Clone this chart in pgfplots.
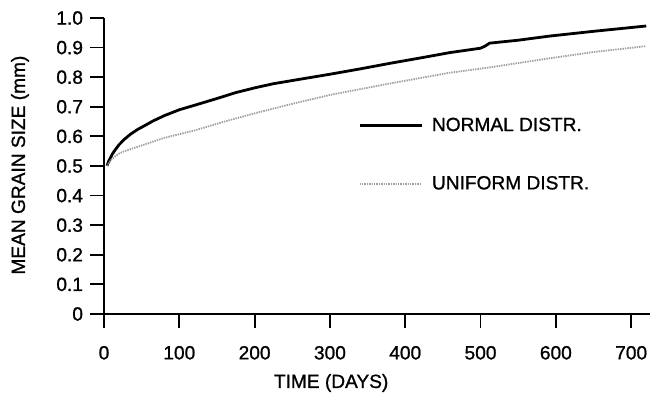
\documentclass[border=0pt]{standalone}
\usepackage{fontspec}
\setmainfont{Liberation Sans}
\newfontfamily\chf{Liberation Sans}[FakeBold=1.0]
\usepackage{pgfplots}
\pgfplotsset{compat=1.18}
\newcommand{\chfont}{\chf\fontsize{9.6}{11}\selectfont}
\begin{document}
\begin{tikzpicture}
\begin{axis}[
  at={(0,0)}, anchor=origin,
  scale only axis,
  width=273bp, height=148bp,
  xmin=0, xmax=725, ymin=0, ymax=1.0,
  axis lines=left,
  axis line style={-, line width=0.9bp},
  tick style={line width=0.9bp, black},
  tick align=outside,
  major tick length=7bp,
  xtick={0,100,200,300,400,500,600,700},
  xticklabels={0,100,200,300,400,500,600,700},
  ytick={0,0.1,0.2,0.3,0.4,0.5,0.6,0.7,0.8,0.9,1.0},
  yticklabels={0,0.1,0.2,0.3,0.4,0.5,0.6,0.7,0.8,0.9,1.0},
  ticklabel style={font=\chfont},
  xticklabel style={yshift=-5.5bp},
  xlabel={TIME (DAYS)},
  ylabel={MEAN GRAIN SIZE (mm)},
  label style={font=\chfont},
  xlabel style={at={(axis description cs:0.416,0)}, anchor=center, yshift=-34.5bp},
  ylabel style={at={(axis description cs:0,0.503)}, anchor=center, yshift=42bp},
  legend style={at={(axis cs:337,0.537)}, anchor=west, draw=none, fill=none,
    font=\chfont, row sep=17bp, inner sep=0pt},
  legend cell align=left,
  legend image code/.code={\draw[#1] (0bp,0bp) -- (31bp,0bp); \path (33.5bp,0bp);},
]
\addplot[black, line width=1.4bp] coordinates {
(4,0.50) (6,0.515) (8,0.525) (11,0.54) (15,0.555) (20,0.572) (27,0.59)
(35,0.607) (45,0.624) (53,0.635) (65,0.652) (80,0.67)
(100,0.69) (120,0.705) (150,0.728) (175,0.748) (200,0.764) (225,0.778) (253,0.79) (300,0.81)
(340,0.828) (380,0.847) (420,0.865) (459,0.883) (500,0.898) (506,0.905) (512,0.915) (550,0.925)
(592,0.939) (650,0.955) (720,0.973)};
\addlegendentry{NORMAL DISTR.}
\addplot[gray!75, line width=0.9bp, dash pattern=on 0.7bp off 0.5bp] coordinates {
(4,0.50) (7,0.512) (10,0.522) (15,0.533) (20,0.542) (27,0.55) (40,0.561) (53,0.572)
(80,0.595) (120,0.62) (160,0.65) (200,0.678) (250,0.71) (300,0.74)
(380,0.779) (459,0.815) (512,0.833) (592,0.864) (650,0.885) (720,0.905)};
\addlegendentry{UNIFORM DISTR.}
\end{axis}
\pgfresetboundingbox
\path[use as bounding box] (-52bp,-41.5bp) rectangle (274.5bp,157bp);
\end{tikzpicture}
\end{document}
